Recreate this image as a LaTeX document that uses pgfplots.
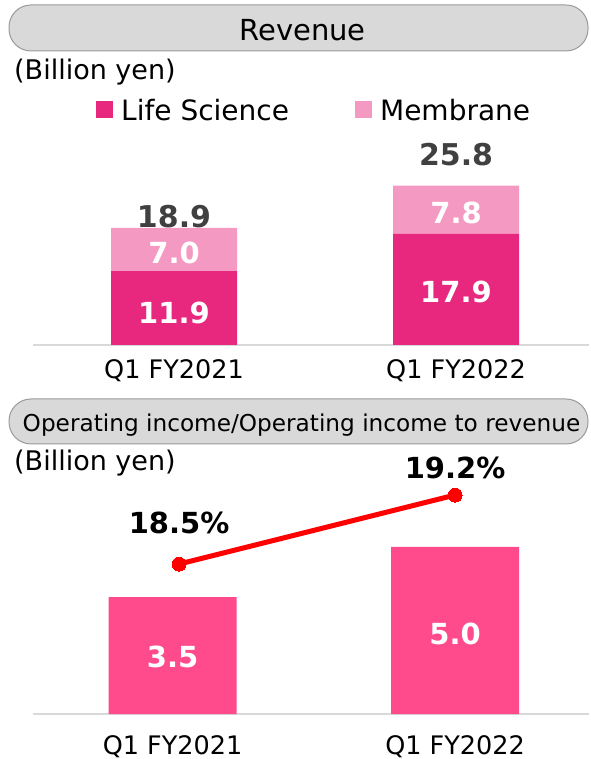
\documentclass[border=0pt]{standalone}
\usepackage{fontspec}
\setmainfont{DejaVu Sans}
\usepackage{pgfplots}
\pgfplotsset{compat=1.18}
\definecolor{lifesci}{HTML}{E8287F}
\definecolor{membrane}{HTML}{F49AC2}
\definecolor{opbar}{HTML}{FF4B8B}
\definecolor{pillfill}{HTML}{D9D9D9}
\definecolor{pilldraw}{HTML}{9A9A9A}
\definecolor{basegray}{HTML}{D9D9D9}
\definecolor{totgray}{HTML}{404040}
\newcommand{\fs}[1]{\fontsize{#1}{#1}\selectfont}
\begin{document}
\begin{tikzpicture}
\path[use as bounding box] (0pt,0pt) rectangle (590pt,759pt);
% title pills
\draw[pilldraw, fill=pillfill, line width=1pt, rounded corners=22pt] (9pt,708pt) rectangle (588pt,754pt);
\node[anchor=base, inner sep=0pt] at (302.5pt,718pt) {\fs{29}Revenue};
\node[anchor=base west, inner sep=0pt] at (14pt,679pt) {\fs{27}(Billion yen)};
\draw[pilldraw, fill=pillfill, line width=1pt, rounded corners=22pt] (9pt,315pt) rectangle (588pt,360pt);
\node[anchor=base, inner sep=0pt] at (301.5pt,327pt) {\fs{23.2}Operating income/Operating income to revenue};
\node[anchor=base west, inner sep=0pt] at (14pt,288pt) {\fs{27}(Billion yen)};

% Revenue chart
\begin{axis}[
  at={(33pt,414pt)}, anchor=south west, scale only axis,
  width=556pt, height=205pt,
  xmin=-0.5, xmax=1.4716, ymin=0, ymax=33.06,
  ybar stacked, bar width=126pt,
  axis x line*=bottom, axis y line=none,
  x axis line style={basegray, line width=1.5pt},
  xtick={0,1}, xticklabels={Q1 FY2021, Q1 FY2022}, major tick length=0pt,
  xticklabel style={font=\fs{25.5}, inner sep=0pt, anchor=north, yshift=-14pt},
  clip=false,
  legend columns=2,
  legend style={at={(axis description cs:0.1133,1.1444)}, anchor=west, draw=none, fill=none,
    inner sep=0pt, font=\fs{28}, nodes={inner sep=0pt},
    /tikz/every odd column/.append style={column sep=8pt},
    /tikz/every even column/.append style={column sep=66pt}},
  legend image code/.code={\fill[#1] (0pt,-8pt) rectangle (17pt,9pt);},
]
\addplot[fill=lifesci, draw=none] coordinates {(0,11.9) (1,17.9)};
\addlegendentry{Life Science}
\addplot[fill=membrane, draw=none] coordinates {(0,7.0) (1,7.8)};
\addlegendentry{Membrane}
\end{axis}

% Revenue labels (overlay, same box)
\begin{axis}[
  at={(33pt,414pt)}, anchor=south west, scale only axis,
  width=556pt, height=205pt,
  xmin=-0.5, xmax=1.4716, ymin=0, ymax=33.06,
  hide axis, clip=false,
]
\addplot[draw=none] coordinates {(0,0) (1,0)};
\node[white, font=\bfseries\fs{29}] at (axis cs:0,5.24) {11.9};
\node[white, font=\bfseries\fs{29}] at (axis cs:0,14.84) {7.0};
\node[white, font=\bfseries\fs{29}] at (axis cs:1,8.63) {17.9};
\node[white, font=\bfseries\fs{29}] at (axis cs:1,21.29) {7.8};
\node[totgray, font=\bfseries\fs{30}] at (axis cs:0,20.73) {18.9};
\node[totgray, font=\bfseries\fs{30}] at (axis cs:1,30.65) {25.8};
\end{axis}

% Operating income bars
\begin{axis}[
  at={(33pt,45pt)}, anchor=south west, scale only axis,
  width=556pt, height=244pt,
  xmin=-0.494, xmax=1.474, ymin=0, ymax=7.305,
  ybar, bar width=128pt,
  axis x line*=bottom, axis y line=none,
  x axis line style={basegray, line width=1.5pt},
  xtick={0,1}, xticklabels={Q1 FY2021, Q1 FY2022}, major tick length=0pt,
  xticklabel style={font=\fs{25.5}, inner sep=0pt, anchor=north, yshift=-21pt},
  clip=false,
]
\addplot[fill=opbar, draw=none] coordinates {(0,3.5) (1,5.0)};
\node[white, font=\bfseries\fs{29}] at (axis cs:0,1.72) {3.5};
\node[white, font=\bfseries\fs{29}] at (axis cs:1,2.41) {5.0};
\end{axis}

% Operating margin line
\begin{axis}[
  at={(33pt,45pt)}, anchor=south west, scale only axis,
  width=556pt, height=244pt,
  xmin=-0.494, xmax=1.474, ymin=16.979, ymax=19.454,
  hide axis, clip=false,
]
\addplot[red, line width=5pt, mark=*, mark size=7pt, mark options={solid, fill=red, draw=red, line width=0pt}] coordinates {(0.023,18.5) (1.0,19.2)};
\node[black, font=\bfseries\fs{29}] at (axis cs:0.023,18.916) {18.5\%};
\node[black, font=\bfseries\fs{29}] at (axis cs:1.0,19.479) {19.2\%};
\end{axis}
\end{tikzpicture}
\end{document}
